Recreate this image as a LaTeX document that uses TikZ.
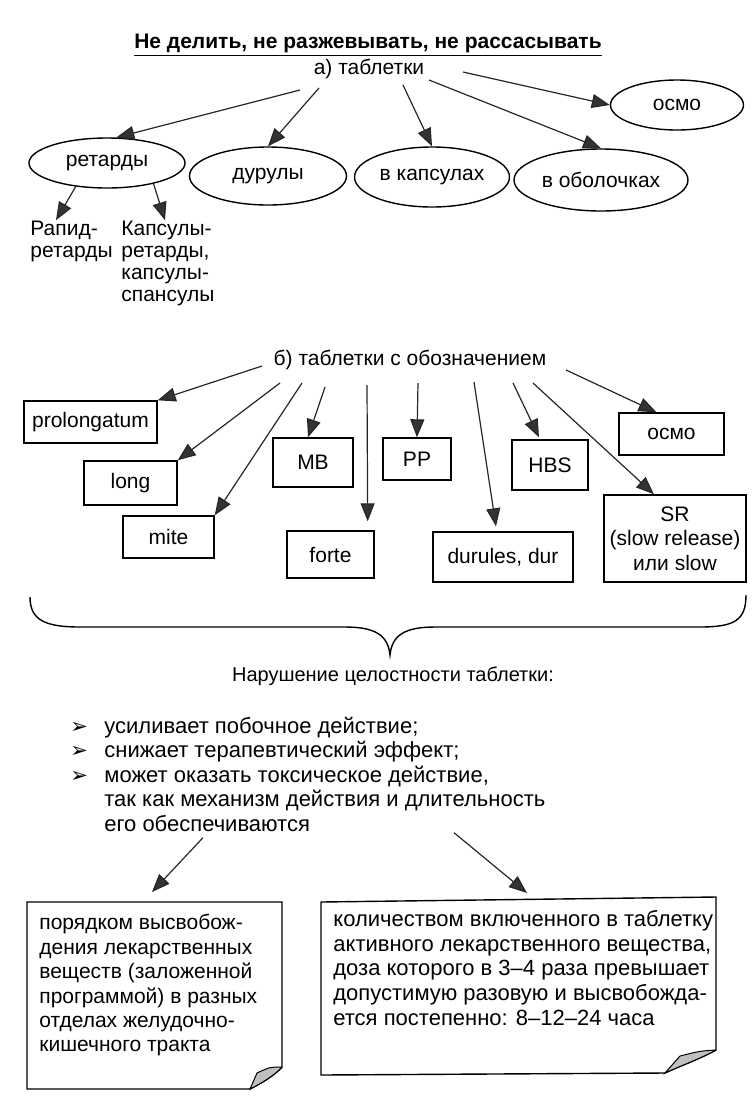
\documentclass[tikz,border=0pt]{standalone}
\usepackage{fontspec}
\setmainfont{Liberation Sans}
\newfontfamily\symfont{DejaVu Sans}
\usetikzlibrary{arrows.meta,shapes.geometric}
\tikzset{
  oval/.style={draw, ellipse, line width=0.7pt, inner sep=0pt},
  tagbox/.style={draw, rectangle, line width=0.7pt, inner sep=0pt, align=center},
  arr/.style={draw=black!85, line width=0.6pt, -{Triangle[length=9pt,width=7pt,fill=black!80]}},
  txt/.style={inner sep=0pt, align=left, font=\fontsize{10.5}{11}\selectfont},
  notetext/.style={inner sep=6pt, align=left, anchor=north west},
}
\newcommand{\bul}{\makebox[17pt][l]{\symfont\fontsize{10.5}{11}\selectfont ➢}}
\begin{document}
\begin{tikzpicture}[x=0.5pt, y=-0.5pt, font=\fontsize{10.5}{12.2}\selectfont]
\useasboundingbox (0,0) rectangle (752,1116);
% a) tablets
\node (title) at (368,45) {\textbf{\underline{Не делить, не разжевывать, не рассасывать}}};
\node (tabl) at (369,69) {а) таблетки};
\node[oval, minimum width=78pt, minimum height=25pt] (ret) at (107,163) {ретарды};
\node[oval, minimum width=78.5pt, minimum height=29pt] (dur) at (268,176) {дурулы};
\node[oval, minimum width=77.5pt, minimum height=30pt] (kaps) at (432,177) {в капсулах};
\node[oval, minimum width=87pt, minimum height=31pt] (obol) at (601,180) {в оболочках};
\node[oval, minimum width=66.5pt, minimum height=25pt] (osmo) at (677,105) {осмо};
\node[txt, anchor=west] (rapid) at (30,241) {Рапид-\\ретарды};
\node[txt, anchor=west] (kapsret) at (121,263) {Капсулы-\\ретарды,\\капсулы-\\спансулы};
\draw[arr] ([shift={(-69,21)}]tabl.center) -- (ret.70);
\draw[arr] ([shift={(-50,19)}]tabl.center) -- (dur.north);
\draw[arr] ([shift={(34,16)}]tabl.center) -- (kaps.north);
\draw[arr] ([shift={(60,11)}]tabl.center) -- (obol.north);
\draw[arr] ([shift={(94,3)}]tabl.center) -- (osmo.west);
\draw[arr] (ret.217) -- ([xshift=13pt]rapid.north west);
\draw[arr] (ret.-24) -- ([xshift=22pt]kapsret.north west);
% b) marked tablets
\node (oboz) at (410,360) {б) таблетки с обозначением};
\node[tagbox, minimum width=66.5pt, minimum height=21pt] (prol) at (90.5,422) {prolongatum};
\node[tagbox, minimum width=46.5pt, minimum height=22pt] (long) at (130.5,483) {long};
\node[tagbox, minimum width=45.5pt, minimum height=21pt] (mite) at (168.5,537) {mite};
\node[tagbox, minimum width=40pt, minimum height=24.5pt] (mb) at (313,462.5) {MB};
\node[tagbox, minimum width=43.5pt, minimum height=23.5pt] (forte) at (330.5,554.5) {forte};
\node[tagbox, minimum width=34pt, minimum height=21pt] (pp) at (417,459) {PP};
\node[tagbox, minimum width=38pt, minimum height=25pt] (hbs) at (550,465) {HBS};
\node[tagbox, minimum width=70pt, minimum height=25pt] (durul) at (503,557) {durules, dur};
\node[tagbox, minimum width=52.5pt, minimum height=21pt] (osmob) at (671.5,434) {осмо};
\node[tagbox, minimum width=71pt, minimum height=43.5pt] (sr) at (675,538.5) {SR\\(slow release)\\или slow};
\draw[arr] ([shift={(-148,6)}]oboz.center) -- (prol.north east);
\draw[arr] ([shift={(-130,23)}]oboz.center) -- (long.north east);
\draw[arr] ([shift={(-108,23)}]oboz.center) -- (mite.north east);
\draw[arr] ([shift={(-85,27)}]oboz.center) -- ([xshift=-2.5pt]mb.north);
\draw[arr] ([shift={(-43,25)}]oboz.center) -- ([xshift=-3.5pt,yshift=4.5pt]forte.north east);
\draw[arr] ([shift={(8,23)}]oboz.center) -- (pp.north);
\draw[arr] ([shift={(64,22)}]oboz.center) -- ([xshift=-3.5pt,yshift=2.5pt]durul.north);
\draw[arr] ([shift={(103,23)}]oboz.center) -- ([xshift=-5.5pt,yshift=1pt]hbs.north);
\draw[arr] ([shift={(123,23)}]oboz.center) -- ([xshift=-10.5pt]sr.north);
\draw[arr] ([shift={(156,10)}]oboz.center) -- ([xshift=-7.5pt]osmob.north);
% brace
\draw[line width=0.7pt] (30,597) .. controls (30,620) and (45,627) .. (80,627) -- (345,627)
  .. controls (375,627) and (388,635) .. (390,655) .. controls (392,635) and (405,627) .. (435,627)
  -- (700,627) .. controls (735,627) and (746,620) .. (746,595);
% consequences
\node[font=\fontsize{10}{12}\selectfont] (narush) at (393,676) {Нарушение целостности таблетки:};
\node[inner sep=0pt, align=left, anchor=west, font=\fontsize{11}{12.25}\selectfont] (effects) at (70,774)
  {\bul усиливает побочное действие;\\
   \bul снижает терапевтический эффект;\\
   \bul может оказать токсическое действие,\\
   \hspace*{17pt}так как механизм действия и длительность\\
   \hspace*{17pt}его обеспечиваются};
\node[notetext] (notea) at (27,902) {порядком высвобож-\\дения лекарственных\\веществ (заложенной\\программой) в разных\\отделах желудочно-\\кишечного тракта};
\node[notetext, font=\fontsize{11}{12.35}\selectfont] (noteb) at (321,898) {количеством включенного в таблетку\\активного лекарственного вещества,\\доза которого в 3--4 раза превышает\\допустимую разовую и высвобожда-\\ется постепенно: 8--12--24 часа};
\draw[line width=0.7pt] (27,902) -- (282,902) -- (282,1067) .. controls (275,1075) and (262,1083) .. (250,1089) -- (27,1089) -- cycle;
\filldraw[fill=black!25, line width=0.5pt] (282,1067) .. controls (270,1067) .. (257,1073) -- (250,1089) .. controls (262,1083) and (275,1075) .. (282,1067);
\draw[line width=0.7pt] (321,902) -- (716,897) -- (716,1050) .. controls (702,1058) and (680,1066) .. (665,1073) -- (321,1075) -- cycle;
\filldraw[fill=black!25, line width=0.5pt] (716,1050) .. controls (700,1051) .. (680,1056) -- (665,1073) .. controls (680,1066) and (702,1058) .. (716,1050);
\draw[arr] ([shift={(133,6)}]effects.south west) -- ([xshift=62.5pt,yshift=5pt]notea.north west);
\draw[arr] ([shift={(384,1)}]effects.south west) -- ([xshift=103pt,yshift=2.5pt]noteb.north west);
\end{tikzpicture}
\end{document}
